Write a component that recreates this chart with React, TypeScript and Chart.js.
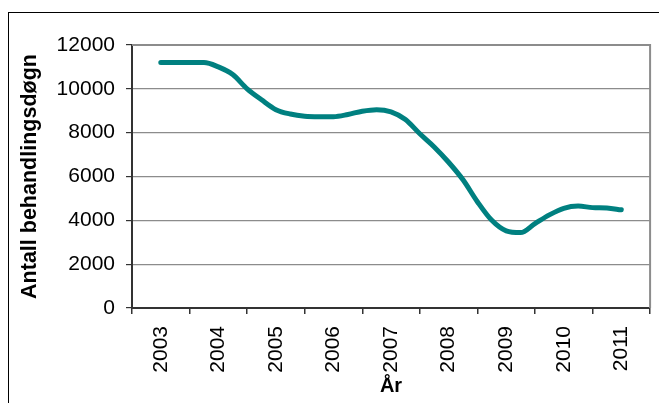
import React, { useEffect, useRef } from 'react';
import { Chart, registerables } from 'chart.js';

Chart.register(...registerables);

// Category labels (years) shown on the x axis
const years = ['2003', '2004', '2005', '2006', '2007', '2008', '2009', '2010', '2011'];

// Time positions of the observations (quarters, in years)
const periods = [
  2003, 2003.25, 2003.5, 2003.75,
  2004, 2004.25, 2004.5, 2004.75,
  2005, 2005.25, 2005.5, 2005.75,
  2006, 2006.25, 2006.5, 2006.75,
  2007, 2007.25, 2007.5, 2007.75,
  2008, 2008.25, 2008.5, 2008.75,
  2009, 2009.25, 2009.5, 2009.75,
  2010, 2010.25, 2010.5, 2010.75,
  2011,
];

// Antall behandlingsdøgn
const days = [
  11200, 11200, 11200, 11200,
  11000, 10650, 10000, 9500,
  9050, 8850, 8750, 8730,
  8730, 8830, 8980, 9050,
  8950, 8600, 7950, 7350,
  6650, 5850, 4850, 4000,
  3520, 3440, 3850, 4250,
  4550, 4650, 4580, 4560,
  4480,
];

const yTicks = [0, 2000, 4000, 6000, 8000, 10000, 12000];

const FONT = "'Liberation Sans', Arial, Helvetica, sans-serif";

const plotBorder = {
  id: 'plotBorder',
  beforeDatasetsDraw(chart: any) {
    const { ctx, chartArea } = chart;
    ctx.save();
    ctx.strokeStyle = '#8c8c8c';
    ctx.lineWidth = 2;
    ctx.beginPath();
    ctx.moveTo(chartArea.right, chartArea.bottom);
    ctx.lineTo(chartArea.right, chartArea.top);
    ctx.lineTo(chartArea.left, chartArea.top);
    ctx.stroke();
    ctx.restore();
  },
};

export default function App() {
  const canvasRef = useRef<HTMLCanvasElement | null>(null);

  useEffect(() => {
    if (!canvasRef.current) return;
    const chart = new Chart(canvasRef.current, {
      type: 'line',
      data: {
        datasets: [
          {
            label: 'Antall behandlingsdøgn',
            data: periods.map((p, i) => ({ x: p, y: days[i] })),
            borderColor: '#008080',
            backgroundColor: '#008080',
            borderWidth: 5,
            pointRadius: 0,
            fill: false,
            cubicInterpolationMode: 'monotone',
            borderCapStyle: 'round',
            borderJoinStyle: 'round',
            xAxisID: 'x',
            yAxisID: 'y',
          },
        ],
      },
      options: {
        animation: false,
        responsive: false,
        devicePixelRatio: 1,
        layout: { padding: { top: 32, right: 5, left: 0, bottom: 0 } },
        plugins: {
          legend: { display: false },
          tooltip: { enabled: false },
        },
        scales: {
          x: {
            type: 'linear',
            min: 2002.5,
            max: 2011.5,
            display: false,
          },
          xLabels: {
            axis: 'x',
            type: 'category',
            labels: years,
            position: 'bottom',
            offset: true,
            grid: {
              offset: true,
              drawOnChartArea: false,
              tickLength: 6,
              color: '#333',
              lineWidth: 1.5,
            },
            border: { color: '#333', width: 2 },
            ticks: {
              minRotation: 90,
              maxRotation: 90,
              autoSkip: false,
              padding: 12,
              color: '#000',
              font: { family: FONT, size: 21 },
            },
            title: {
              display: true,
              text: 'År',
              color: '#000',
              font: { family: FONT, size: 20, weight: 'bold' },
              padding: { top: 0, bottom: 5 },
            },
            afterFit: (s: any) => {
              s.height = 95;
            },
          },
          y: {
            type: 'linear',
            position: 'left',
            min: 0,
            max: 12000,
            afterBuildTicks: (axis: any) => {
              axis.ticks = yTicks.map((v) => ({ value: v }));
            },
            ticks: {
              padding: 11,
              color: '#000',
              font: { family: FONT, size: 21 },
              callback: (v: any) => String(v),
            },
            grid: {
              color: '#8c8c8c',
              tickColor: '#333',
              tickLength: 6,
              lineWidth: 1.2,
            },
            border: { color: '#333', width: 2 },
            title: {
              display: true,
              text: 'Antall behandlingsdøgn',
              color: '#000',
              font: { family: FONT, size: 21.5, weight: 'bold' },
              padding: { top: 8, bottom: 0 },
            },
            afterFit: (s: any) => {
              s.width = 123;
            },
          },
        },
      } as any,
      plugins: [plotBorder],
    });
    return () => chart.destroy();
  }, []);

  return (
    <div
      style={{
        position: 'absolute',
        left: 8,
        top: 12,
        width: 650,
        height: 390,
        borderLeft: '1px solid #000',
        borderTop: '1px solid #000',
        background: '#fff',
      }}
    >
      <canvas ref={canvasRef} width={650} height={390} style={{ display: 'block' }} />
    </div>
  );
}
